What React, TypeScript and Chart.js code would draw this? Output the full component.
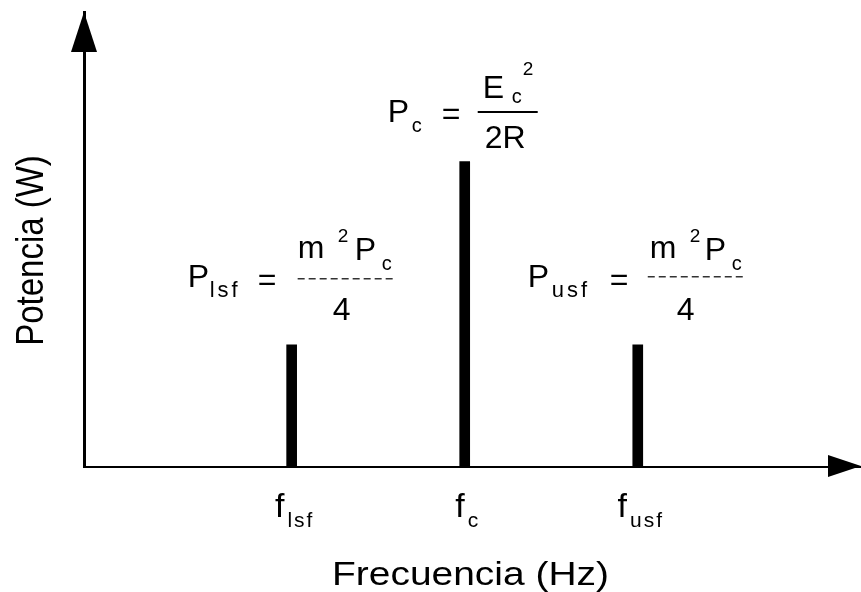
import React, { useEffect, useRef } from 'react';
import { Chart, registerables } from 'chart.js';

Chart.register(...registerables);

// ---- data ----
const freqs = [-1, 0, 1]; // lower side frequency, carrier, upper side frequency (units of fm)
const powers = [0.4, 1, 0.4]; // relative power (Pc = 1)
const tickMain = ['f', 'f', 'f'];
const tickSubs = ['lsf', 'c', 'usf'];
const xTitle = 'Frecuencia (Hz)';
const yTitle = 'Potencia (W)';

const FONT = '"Liberation Sans", Arial, Helvetica, sans-serif';

type Piece = { t: string; dx: number; dy: number; size: number; ls?: number };
type Formula = { bar: number; pieces: Piece[]; line: [number, number, number]; dashed: boolean };

// formula annotations, anchored to each bar (dx from bar centre, dy from bar top)
const formulas: Formula[] = [
  {
    bar: 0,
    dashed: true,
    line: [6, 103, -66],
    pieces: [
      { t: 'P', dx: -104, dy: -58, size: 32 },
      { t: 'lsf', dx: -82, dy: -48, size: 22, ls: 3 },
      { t: '=', dx: -34, dy: -55, size: 32 },
      { t: 'm', dx: 6, dy: -87, size: 32 },
      { t: '2', dx: 46, dy: -103, size: 19 },
      { t: 'P', dx: 63, dy: -85, size: 32 },
      { t: 'c', dx: 90, dy: -75, size: 20 },
      { t: '4', dx: 41, dy: -25, size: 32 },
    ],
  },
  {
    bar: 1,
    dashed: false,
    line: [13, 73, -49.6],
    pieces: [
      { t: 'P', dx: -77, dy: -40, size: 32 },
      { t: 'c', dx: -53, dy: -30, size: 20 },
      { t: '=', dx: -23, dy: -38, size: 32 },
      { t: 'E', dx: 18, dy: -63.6, size: 32 },
      { t: 'c', dx: 47, dy: -58.6, size: 20 },
      { t: '2', dx: 58, dy: -86.6, size: 19 },
      { t: '2R', dx: 20, dy: -13.6, size: 32 },
    ],
  },
  {
    bar: 2,
    dashed: true,
    line: [10, 109, -68],
    pieces: [
      { t: 'P', dx: -110, dy: -58, size: 32 },
      { t: 'usf', dx: -86, dy: -48, size: 22, ls: 3 },
      { t: '=', dx: -28, dy: -55, size: 32 },
      { t: 'm', dx: 12, dy: -87, size: 32 },
      { t: '2', dx: 52, dy: -103, size: 19 },
      { t: 'P', dx: 67, dy: -85, size: 32 },
      { t: 'c', dx: 94, dy: -75, size: 20 },
      { t: '4', dx: 39, dy: -25, size: 32 },
    ],
  },
];

function drawText(ctx: CanvasRenderingContext2D, s: string, x: number, y: number, size: number, ls = 0) {
  ctx.save();
  ctx.font = `${size}px ${FONT}`;
  ctx.fillStyle = '#000';
  ctx.textAlign = 'left';
  ctx.textBaseline = 'alphabetic';
  (ctx as any).letterSpacing = `${ls}px`;
  ctx.fillText(s, x, y);
  ctx.restore();
}

const spectrumPlugin = {
  id: 'spectrumDecor',
  afterDraw(chart: any) {
    const ctx: CanvasRenderingContext2D = chart.ctx;
    const area = chart.chartArea;
    const xs = chart.scales.x;
    const ys = chart.scales.y;

    ctx.save();
    ctx.fillStyle = '#000';
    // y-axis arrow
    ctx.beginPath();
    ctx.moveTo(area.left, area.top);
    ctx.lineTo(area.left - 13, area.top + 40);
    ctx.lineTo(area.left + 13, area.top + 40);
    ctx.closePath();
    ctx.fill();
    // x-axis arrow
    ctx.beginPath();
    ctx.moveTo(area.right, area.bottom - 1);
    ctx.lineTo(area.right - 33, area.bottom - 12);
    ctx.lineTo(area.right - 33, area.bottom + 10);
    ctx.closePath();
    ctx.fill();
    ctx.restore();

    // tick labels with subscripts
    for (let i = 0; i < freqs.length; i++) {
      const cx = xs.getPixelForValue(freqs[i]) + 3;
      ctx.save();
      ctx.font = `34px ${FONT}`;
      const fw = ctx.measureText(tickMain[i]).width;
      ctx.font = `21px ${FONT}`;
      (ctx as any).letterSpacing = '2px';
      const sw = ctx.measureText(tickSubs[i]).width;
      ctx.restore();
      const start = cx - (fw + 3 + sw) / 2;
      drawText(ctx, tickMain[i], start, area.bottom + 50, 34);
      drawText(ctx, tickSubs[i], start + fw + 3, area.bottom + 60, 21, 2);
    }

    // formulas
    for (const f of formulas) {
      const bx = xs.getPixelForValue(freqs[f.bar]);
      const by = ys.getPixelForValue(powers[f.bar]);
      for (const p of f.pieces) {
        drawText(ctx, p.t, bx + p.dx, by + p.dy, p.size, p.ls || 0);
      }
      ctx.save();
      ctx.strokeStyle = f.dashed ? '#333' : '#000';
      ctx.lineWidth = f.dashed ? 1.5 : 2;
      if (f.dashed) ctx.setLineDash([7, 4]);
      ctx.beginPath();
      ctx.moveTo(bx + f.line[0], by + f.line[2]);
      ctx.lineTo(bx + f.line[1], by + f.line[2]);
      ctx.stroke();
      ctx.restore();
    }

    // axis titles (slightly wide lettering)
    ctx.save();
    ctx.font = `33px ${FONT}`;
    ctx.fillStyle = '#000';
    ctx.textAlign = 'center';
    ctx.textBaseline = 'alphabetic';
    ctx.translate((area.left + area.right) / 2 - 2, area.bottom + 118);
    ctx.scale(1.18, 1);
    ctx.fillText(xTitle, 0, 0);
    ctx.restore();

    ctx.save();
    ctx.font = `33px ${FONT}`;
    ctx.fillStyle = '#000';
    ctx.textAlign = 'center';
    ctx.textBaseline = 'alphabetic';
    ctx.translate(area.left - 41, (area.top + area.bottom) / 2 + 11);
    ctx.rotate(-Math.PI / 2);
    ctx.scale(1, 1.18);
    ctx.fillText(yTitle, 0, 0);
    ctx.restore();
  },
};

export default function App() {
  const ref = useRef<HTMLCanvasElement | null>(null);

  useEffect(() => {
    if (!ref.current) return;
    const chart = new Chart(ref.current, {
      type: 'bar',
      data: {
        datasets: [
          {
            data: freqs.map((f, i) => ({ x: f, y: powers[i] })),
            backgroundColor: '#000',
            borderWidth: 0,
            barThickness: 10,
          },
        ],
      },
      options: {
        animation: false,
        responsive: false,
        events: [],
        layout: { padding: { left: 84, right: 0, top: 12, bottom: 125 } },
        plugins: { legend: { display: false }, tooltip: { enabled: false }, title: { display: false } },
        scales: {
          x: {
            type: 'linear',
            min: -2.2,
            max: 2.29,
            offset: false,
            grid: { display: false, drawTicks: false },
            border: { display: true, color: '#000', width: 2 },
            ticks: { display: false },
          },
          y: {
            type: 'linear',
            min: 0,
            max: 1.49,
            grid: { display: false, drawTicks: false },
            border: { display: true, color: '#000', width: 3 },
            ticks: { display: false },
          },
        },
      } as any,
      plugins: [spectrumPlugin],
    });
    return () => chart.destroy();
  }, []);

  return (
    <div style={{ position: 'fixed', left: 0, top: 0, width: 861, height: 592, background: '#fff' }}>
      <canvas ref={ref} width={861} height={592} style={{ display: 'block', width: 861, height: 592 }} />
    </div>
  );
}
